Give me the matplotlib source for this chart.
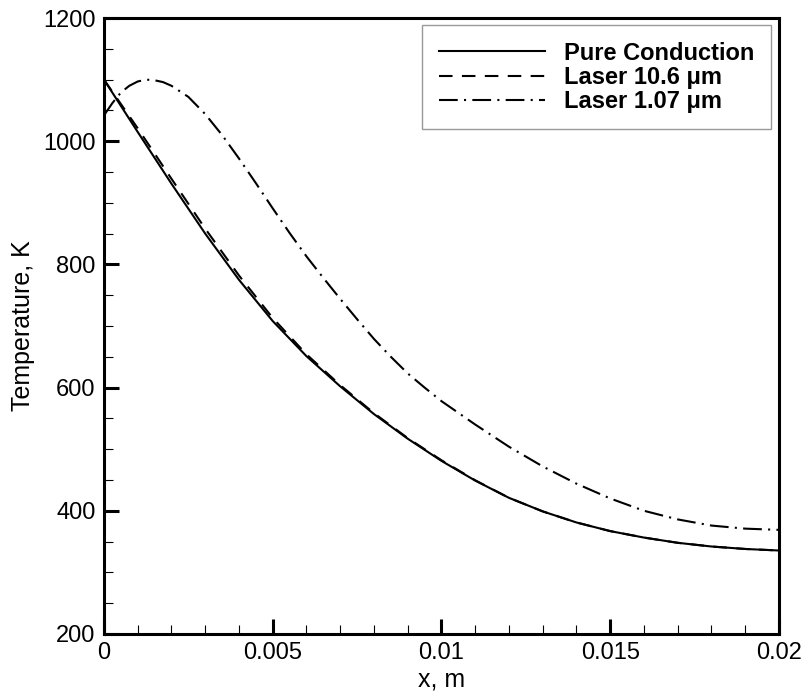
import numpy as np
import matplotlib
matplotlib.use("Agg")
import matplotlib.pyplot as plt
from matplotlib.ticker import MultipleLocator

plt.rcParams['font.family'] = ['Liberation Sans', 'DejaVu Sans']

# x positions (m)
x_pure = [0, 0.001, 0.002, 0.003, 0.004, 0.005, 0.006, 0.007, 0.008, 0.009, 0.010,
          0.011, 0.012, 0.013, 0.014, 0.015, 0.016, 0.017, 0.018, 0.019, 0.020]
# temperature (K), pure conduction
T_pure = [1100, 1015, 931, 850, 775, 708, 651, 602, 557, 517, 481,
          449, 421, 399, 381, 367, 356.5, 348, 342, 338, 335.5]
# laser 10.6 um, almost on top of pure conduction
T_106 = [1100, 1021, 939, 858, 782, 713, 654, 604, 558.5, 518, 482,
         449.5, 421, 399, 381, 367, 356.5, 348, 342, 338, 335.5]

x_107 = [0, 0.00025, 0.0005, 0.00075, 0.001, 0.00125, 0.0015, 0.00175, 0.002, 0.0025,
         0.003, 0.0035, 0.004, 0.0045, 0.005, 0.0055, 0.006, 0.0065, 0.007, 0.0075,
         0.008, 0.0085, 0.009, 0.0095, 0.010, 0.011, 0.012, 0.013, 0.014, 0.015,
         0.016, 0.017, 0.018, 0.019, 0.020]
T_107 = [1042, 1062, 1079, 1090, 1097, 1100, 1099, 1096, 1090, 1072,
         1044, 1010, 972, 932, 891, 851, 813, 778, 744, 711,
         679, 650, 623, 600, 578, 540, 504, 472, 444, 420,
         400, 386, 376, 371, 369]

xticks = [0, 0.005, 0.01, 0.015, 0.02]
xtick_labels = ['0', '0.005', '0.01', '0.015', '0.02']
yticks = [200, 400, 600, 800, 1000, 1200]

fig = plt.figure(figsize=(8.06, 6.94), dpi=100)
ax = fig.add_axes([0.129, 0.0865, 0.8375, 0.8875])

lw = 1.5
ax.plot(x_pure, T_pure, color='black', lw=lw, linestyle='-', label='Pure Conduction')
ax.plot(x_pure, T_106, color='black', lw=lw, linestyle=(0, (6.5, 4.5)), label='Laser 10.6 \u03bcm')
ax.plot(x_107, T_107, color='black', lw=lw, linestyle=(0, (9, 3, 1, 3)), label='Laser 1.07 \u03bcm')

ax.set_xlim(0, 0.02)
ax.set_ylim(200, 1200)
ax.set_xticks(xticks)
ax.set_xticklabels(xtick_labels)
ax.set_yticks(yticks)
ax.xaxis.set_minor_locator(MultipleLocator(0.001))
ax.yaxis.set_minor_locator(MultipleLocator(50))

for s in ax.spines.values():
    s.set_linewidth(2.2)
ax.tick_params(which='major', direction='in', length=11, width=2.2, labelsize=17, pad=6,
               top=False, right=False)
ax.tick_params(which='minor', direction='in', length=6.5, width=0.8, top=False, right=False)

ax.set_xlabel('x, m', fontsize=18, labelpad=2)
ax.set_ylabel('Temperature, K', fontsize=18, labelpad=6)

leg = ax.legend(loc='upper right', bbox_to_anchor=(0.988, 0.9886), fancybox=False,
                frameon=True, edgecolor='#808080', handlelength=4.5, handletextpad=0.8,
                labelspacing=0.05, borderpad=0.7, borderaxespad=0,
                prop={'weight': 'bold', 'size': 17})
leg.get_frame().set_linewidth(1.0)

fig.savefig('out.png', dpi=100)
